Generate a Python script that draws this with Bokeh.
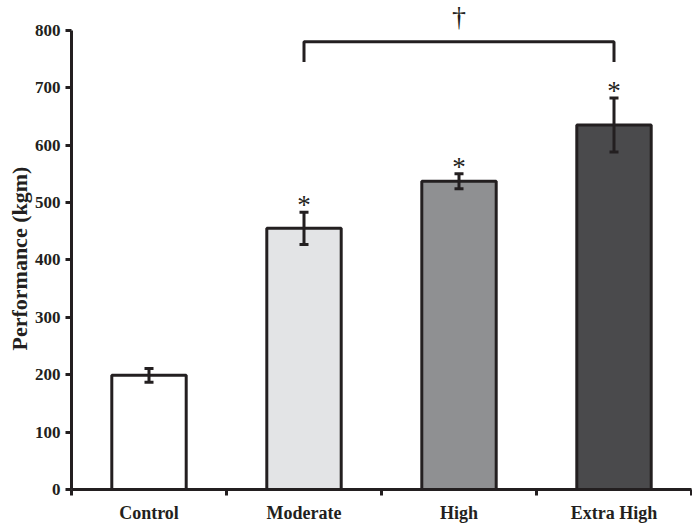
from bokeh.plotting import figure
from bokeh.models import FixedTicker, Whisker, ColumnDataSource, TeeHead, Range1d, Title
from bokeh.core.properties import value
from bokeh.embed import file_html
from bokeh.resources import INLINE

categories = ["Control", "Moderate", "High", "Extra High"]
means = [199, 455, 537, 635]
errors = [12, 28, 13, 47]
colors = ["#ffffff", "#e3e4e6", "#8f9092", "#4a4a4c"]
significant = ["", "*", "*", "*"]
y_ticks = [0, 100, 200, 300, 400, 500, 600, 700, 800]
bracket_from, bracket_to = 1, 3
bracket_y, bracket_leg = 780, 745
y_title = "Performance (kgm)"

INK = "#231f20"
SERIF = "Liberation Serif"
Y_TOP = 852

xs = [i + 0.5 for i in range(len(categories))]
src = ColumnDataSource(dict(
    x=xs, top=means, color=colors,
    upper=[m + e for m, e in zip(means, errors)],
    lower=[m - e for m, e in zip(means, errors)],
    star=significant,
))

p = figure(width=692, height=525, output_backend="svg", toolbar_location=None,
           x_range=Range1d(0, len(categories)), y_range=Range1d(0, Y_TOP),
           min_border_left=71, min_border_right=1, min_border_top=0, min_border_bottom=33)
p.outline_line_color = None
p.xgrid.visible = False
p.ygrid.visible = False
p.background_fill_color = "white"

p.vbar(x="x", top="top", width=0.48, bottom=0, source=src,
       fill_color="color", line_color=INK, line_width=3)

w = Whisker(base="x", upper="upper", lower="lower", source=src,
            line_color=INK, line_width=3, level="annotation",
            upper_head=TeeHead(size=9, line_color=INK, line_width=3),
            lower_head=TeeHead(size=9, line_color=INK, line_width=3))
p.add_layout(w)

p.text(x="x", y="upper", text="star", source=src, text_align="center",
       text_baseline="middle", y_offset=-7, text_font=value(SERIF),
       text_font_size="27px", text_color=INK)

bx0, bx1 = xs[bracket_from], xs[bracket_to]
p.line(x=[bx0, bx0, bx1, bx1], y=[bracket_leg, bracket_y, bracket_y, bracket_leg],
       line_color=INK, line_width=3)
p.text(x=[(bx0 + bx1) / 2], y=[Y_TOP], text=["\u2020"], text_align="center",
       text_baseline="top", text_font=value(SERIF), text_font_size="28px",
       text_color=INK)

# y axis
ya = p.yaxis[0]
ya.ticker = FixedTicker(ticks=y_ticks, minor_ticks=[])
ya.bounds = (0, 800)
ya.axis_line_width = 3
ya.axis_line_color = INK
ya.major_tick_line_width = 3
ya.major_tick_line_color = INK
ya.major_tick_out = 6
ya.major_tick_in = 0
ya.minor_tick_line_color = None
ya.major_label_text_font = SERIF
ya.major_label_text_font_style = "bold"
ya.major_label_text_font_size = "17px"
ya.major_label_text_color = INK
ya.major_label_standoff = 5

title = Title(text=y_title, align="left", offset=139, standoff=0,
              text_font=SERIF, text_font_style="bold", text_font_size="22px",
              text_color=INK)
p.add_layout(title, "left")

# x axis
xa = p.xaxis[0]
xa.ticker = FixedTicker(ticks=xs, minor_ticks=list(range(len(categories) + 1)))
xa.major_label_overrides = {x: c for x, c in zip(xs, categories)}
xa.axis_line_width = 3
xa.axis_line_color = INK
xa.major_tick_line_color = None
xa.major_tick_out = 0
xa.major_tick_in = 0
xa.minor_tick_line_width = 3
xa.minor_tick_line_color = INK
xa.minor_tick_out = 6
xa.minor_tick_in = 0
xa.major_label_text_font = SERIF
xa.major_label_text_font_style = "bold"
xa.major_label_text_font_size = "18px"
xa.major_label_text_color = INK
xa.major_label_standoff = 7

open("out.html", "w").write(file_html(p, INLINE))
